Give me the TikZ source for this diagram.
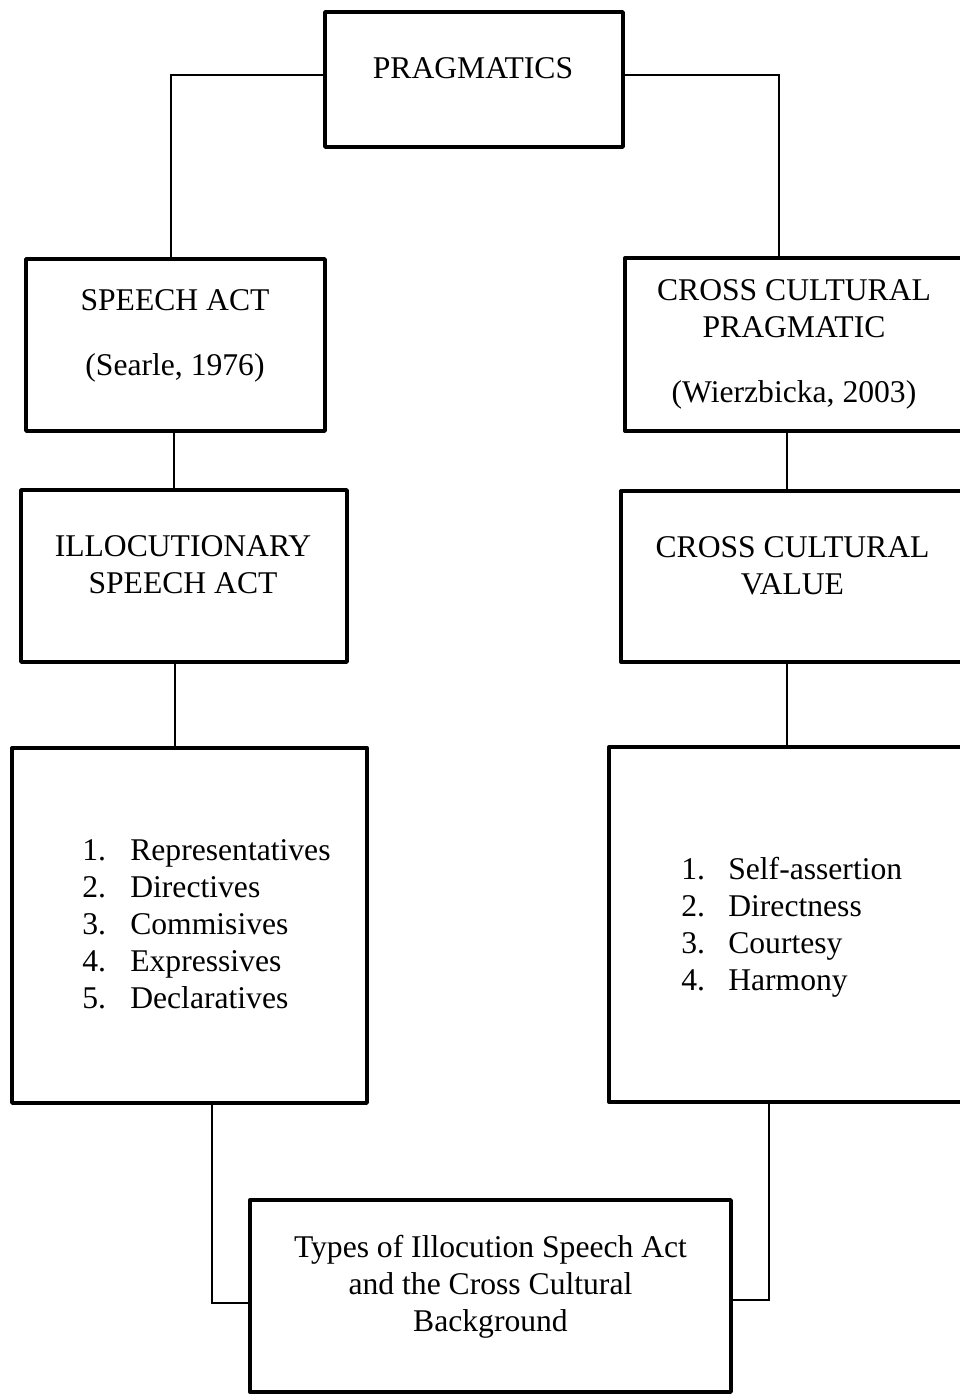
\documentclass[tikz,border=0pt]{standalone}
\usepackage{fontspec}
\setmainfont{Liberation Serif}
\usepackage{tikz}

\begin{document}
\begin{tikzpicture}[x=0.02cm,y=-0.02cm,
  every node/.style={font=\fontsize{18}{21}\selectfont},
  box/.style={draw=black,line width=2pt,fill=white,line join=round,inner sep=0pt},
  txt/.style={align=center,anchor=base,inner sep=0pt},
  lst/.style={align=left,anchor=base west,inner sep=0pt},
  link/.style={draw=black,line width=0.6pt}]
\useasboundingbox (0,0) rectangle (960,1394);
\clip (0,0) rectangle (960,1394);
% boxes
\node[box,minimum width=5.96cm,minimum height=2.70cm] (prag) at (474,79.5) {};
\node[box,minimum width=5.98cm,minimum height=3.44cm] (speech) at (175.5,345) {};
\node[box,minimum width=6.76cm,minimum height=3.46cm] (ccp) at (794,344.5) {};
\node[box,minimum width=6.52cm,minimum height=3.44cm] (illoc) at (184,576) {};
\node[box,minimum width=6.86cm,minimum height=3.42cm] (ccv) at (792.5,576.5) {};
\node[box,minimum width=7.10cm,minimum height=7.10cm] (leftlist) at (189.5,925.5) {};
\node[box,minimum width=7.32cm,minimum height=7.10cm] (rightlist) at (792,924.5) {};
\node[box,minimum width=9.62cm,minimum height=3.84cm] (types) at (490.5,1296) {};
% texts (base = last line)
\node[txt] (pragT) at (473,78) {PRAGMATICS};
\node[txt] (speechT) at (175,375) {SPEECH ACT\\[0.56cm](Searle, 1976)};
\node[txt] (ccpT) at (794,402) {CROSS CULTURAL\\PRAGMATIC\\[0.56cm](Wierzbicka, 2003)};
\node[txt] (illocT) at (183,593) {ILLOCUTIONARY\\SPEECH ACT};
\node[txt] (ccvT) at (792.5,594) {CROSS CULTURAL\\VALUE};
\node[lst] (leftlistT) at (82,1008) {\makebox[0.96cm][l]{1.}Representatives\\
  \makebox[0.96cm][l]{2.}Directives\\
  \makebox[0.96cm][l]{3.}Commisives\\
  \makebox[0.96cm][l]{4.}Expressives\\
  \makebox[0.96cm][l]{5.}Declaratives};
\node[lst] (rightlistT) at (681,990) {\makebox[0.94cm][l]{1.}Self-assertion\\
  \makebox[0.94cm][l]{2.}Directness\\
  \makebox[0.94cm][l]{3.}Courtesy\\
  \makebox[0.94cm][l]{4.}Harmony};
\node[txt] (typesT) at (490.5,1331) {Types of Illocution Speech Act\\and the Cross Cultural\\Background};
% links
\draw[link] ([yshift=0.09cm]prag.west) -| ([xshift=-0.09cm]speech.north);
\draw[link] ([yshift=0.09cm]prag.east) -| ([xshift=-0.30cm]ccp.north);
\draw[link] ([xshift=-0.03cm]speech.south) -- ([xshift=-0.03cm]speech.south |- illoc.north);
\draw[link] ([xshift=-0.14cm]ccp.south) -- ([xshift=-0.14cm]ccp.south |- ccv.north);
\draw[link] ([xshift=-0.18cm]illoc.south) -- ([xshift=-0.18cm]illoc.south |- leftlist.north);
\draw[link] ([xshift=-0.11cm]ccv.south) -- ([xshift=-0.11cm]ccv.south |- rightlist.north);
\draw[link] ([xshift=0.45cm]leftlist.south) |- ([yshift=-0.14cm]types.west);
\draw[link] ([xshift=-0.46cm]rightlist.south) |- ([yshift=-0.08cm]types.east);
\end{tikzpicture}
\end{document}
